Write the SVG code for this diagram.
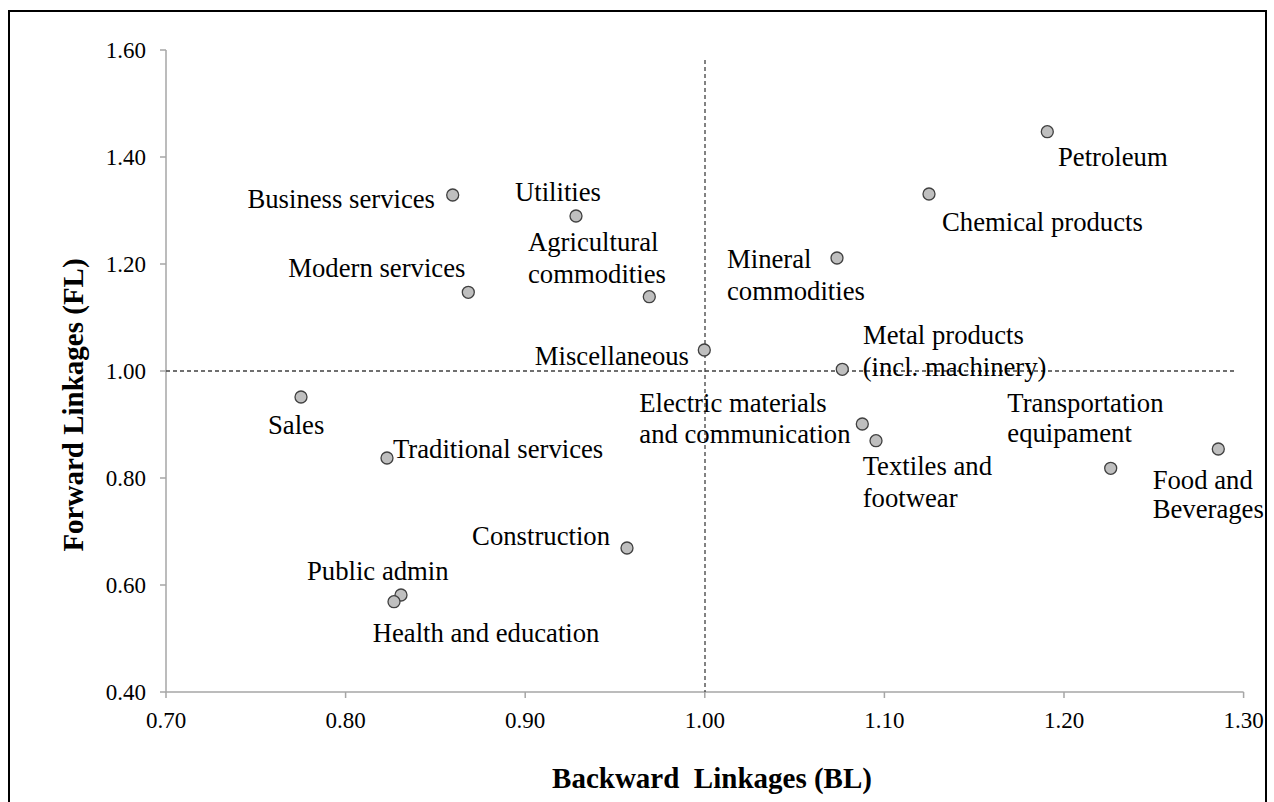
<svg xmlns="http://www.w3.org/2000/svg" width="1274" height="802" viewBox="0 0 1274 802">
<style>
.frame{fill:#fff;stroke:#000;stroke-width:2}
.axis{stroke:#a6a6a6;stroke-width:1.5;fill:none}
.ref{stroke:#404040;stroke-width:1.3;stroke-dasharray:4 3;fill:none}
.pt{fill:#bfbfbf;stroke:#404040;stroke-width:1.3}
.lbl{font-family:"Liberation Serif","Times New Roman",serif;font-size:26.7px;fill:#000}
.tick{font-family:"Liberation Serif","Times New Roman",serif;font-size:23px;fill:#000}
.title{font-family:"Liberation Serif","Times New Roman",serif;font-size:29px;font-weight:bold;fill:#000}
</style>
<rect class="frame" x="9" y="11" width="1257" height="800"/>
<g id="axes">
<path class="axis" d="M166,50 V692 H1243.6"/>
<path class="axis" d="M160,50 H166 M160,157 H166 M160,264 H166 M160,371 H166 M160,478 H166 M160,585 H166 M160,692 H166"/>
<path class="axis" d="M166,692 V698 M345.6,692 V698 M525.2,692 V698 M704.8,692 V698 M884.4,692 V698 M1064,692 V698 M1243.6,692 V698"/>
<g class="tick" text-anchor="end">
<text x="146" y="58">1.60</text>
<text x="146" y="165">1.40</text>
<text x="146" y="272">1.20</text>
<text x="146" y="379">1.00</text>
<text x="146" y="486">0.80</text>
<text x="146" y="593">0.60</text>
<text x="146" y="700">0.40</text>
</g>
<g class="tick" text-anchor="middle">
<text x="166" y="728">0.70</text>
<text x="345.6" y="728">0.80</text>
<text x="525.2" y="728">0.90</text>
<text x="704.8" y="728">1.00</text>
<text x="884.4" y="728">1.10</text>
<text x="1064" y="728">1.20</text>
<text x="1243.6" y="728">1.30</text>
</g>
<text class="title" x="712" y="788" text-anchor="middle" xml:space="preserve">Backward  Linkages (BL)</text>
<text class="title" transform="translate(83,405) rotate(-90)" text-anchor="middle">Forward Linkages (FL)</text>
</g>
<g id="connectors">
<line class="ref" x1="705" y1="60" x2="705" y2="692"/>
<line class="ref" x1="166" y1="371" x2="1235" y2="371"/>
</g>
<g id="petroleum"><circle class="pt" cx="1047.3" cy="131.7" r="6"/><text class="lbl" x="1058" y="165.5">Petroleum</text></g>
<g id="chemical"><circle class="pt" cx="929" cy="194" r="6"/><text class="lbl" x="942" y="231">Chemical products</text></g>
<g id="business"><circle class="pt" cx="452.7" cy="195" r="6"/><text class="lbl" x="435" y="208" text-anchor="end">Business services</text></g>
<g id="utilities"><circle class="pt" cx="576" cy="216" r="6"/><text class="lbl" x="515" y="200.7">Utilities</text></g>
<g id="agricultural"><circle class="pt" cx="649.3" cy="296.7" r="6"/><text class="lbl" x="528" y="250.7">Agricultural</text><text class="lbl" x="528" y="282.7">commodities</text></g>
<g id="modern"><circle class="pt" cx="468.3" cy="292.3" r="6"/><text class="lbl" x="288.3" y="276.7">Modern services</text></g>
<g id="mineral"><circle class="pt" cx="837" cy="258" r="6"/><text class="lbl" x="727" y="268">Mineral</text><text class="lbl" x="727" y="300">commodities</text></g>
<g id="miscellaneous"><circle class="pt" cx="704.3" cy="350" r="6"/><text class="lbl" x="689" y="365" text-anchor="end">Miscellaneous</text></g>
<g id="metal"><circle class="pt" cx="842.3" cy="369.3" r="6"/><text class="lbl" x="863" y="344">Metal products</text><text class="lbl" x="862.7" y="376">(incl. machinery)</text></g>
<g id="electric"><circle class="pt" cx="862.3" cy="424" r="6"/><text class="lbl" x="639.3" y="411.7">Electric materials</text><text class="lbl" x="639.3" y="443.3">and communication</text></g>
<g id="textiles"><circle class="pt" cx="876" cy="440.7" r="6"/><text class="lbl" x="862.7" y="475">Textiles and</text><text class="lbl" x="862.7" y="507">footwear</text></g>
<g id="transportation"><circle class="pt" cx="1110.7" cy="468.3" r="6"/><text class="lbl" x="1007.3" y="412.3">Transportation</text><text class="lbl" x="1007.3" y="441.7">equipament</text></g>
<g id="food"><circle class="pt" cx="1218.3" cy="449" r="6"/><text class="lbl" x="1152.7" y="489.3">Food and</text><text class="lbl" x="1152.7" y="518.3">Beverages</text></g>
<g id="sales"><circle class="pt" cx="301" cy="397" r="6"/><text class="lbl" x="268" y="434">Sales</text></g>
<g id="traditional"><circle class="pt" cx="387" cy="458" r="6"/><text class="lbl" x="393" y="458">Traditional services</text></g>
<g id="construction"><circle class="pt" cx="627" cy="548" r="6"/><text class="lbl" x="610" y="545" text-anchor="end">Construction</text></g>
<g id="public"><circle class="pt" cx="401" cy="595" r="6"/><text class="lbl" x="307" y="580">Public admin</text></g>
<g id="health"><circle class="pt" cx="394" cy="601.7" r="6"/><text class="lbl" x="372.7" y="641.7">Health and education</text></g>
</svg>
